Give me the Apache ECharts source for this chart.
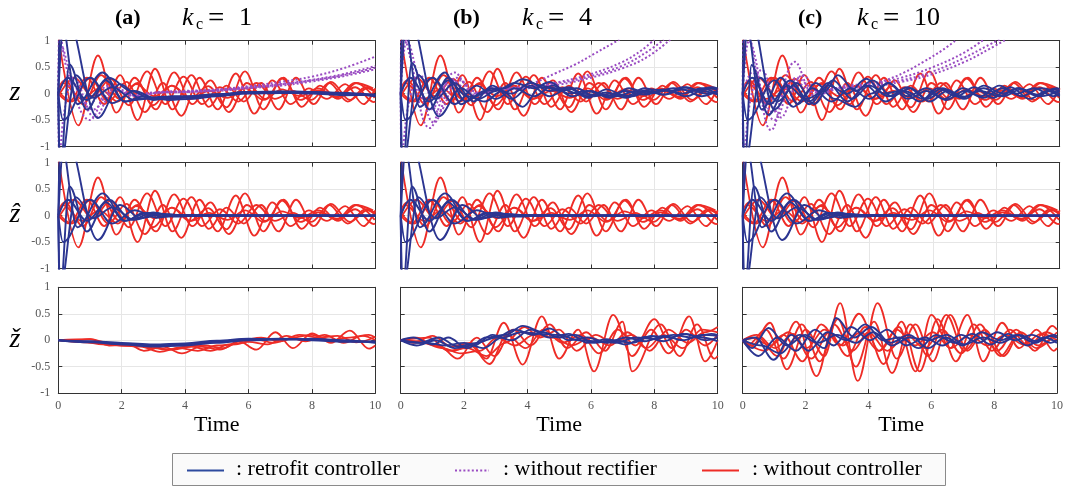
<!DOCTYPE html>
<html><head><meta charset="utf-8">
<script src="https://cdn.jsdelivr.net/npm/echarts@6/dist/echarts.min.js"></script>
<style>html,body{margin:0;padding:0;background:#fff}#c{width:1066px;height:491px}</style>
</head><body><div id="c"></div>
<script>
// ---------- tick labels / text ----------
const xTicks = [0, 2, 4, 6, 8, 10];
const yTicks = [-1, -0.5, 0, 0.5, 1];
const panelTags = ['(a)', '(b)', '(c)'];
const kcValues = ['1', '4', '10'];
const rowLabels = ['z', '\u1E91', '\u017E'];
const xName = 'Time';
const legendNames = [': retrofit controller', ': without rectifier', ': without controller'];

// ---------- without controller (red), z and z-hat rows ----------
const redZ1 = [[0,1.1],[0.63,-0.6],[1.25,0.72],[1.83,-0.36],[2.41,0.3],[2.99,-0.22],[3.57,0.15],[4.15,-0.1],[4.73,0.14],[5.31,-0.26],[5.89,0.42],[6.47,-0.3],[7.05,0.29],[7.63,-0.12],[8.21,0.06],[8.79,-0.06],[9.37,0.12],[9.95,-0.16],[10,-0.15]];
const redZ2 = [[0,0],[0.35,-0.15],[0.9,0.3],[1.45,-0.2],[1.95,0.35],[2.5,-0.5],[3.05,0.47],[3.6,-0.3],[4.2,0.35],[4.75,-0.25],[5.3,0.15],[5.85,-0.15],[6.4,0.2],[6.95,-0.3],[7.5,0.3],[8.05,-0.2],[8.6,0.22],[9.2,-0.12],[9.75,0.1],[10,0.02]];
const redZ3 = [[0,0.1],[0.2,0.25],[0.78,-0.2],[1.35,0.35],[1.93,-0.1],[2.5,0.2],[3.08,-0.3],[3.65,0.4],[4.23,-0.2],[4.8,0.25],[5.38,-0.35],[5.95,0.2],[6.53,-0.1],[7.1,0.3],[7.68,-0.25],[8.25,0.15],[8.83,-0.1],[9.4,0.2],[9.98,-0.08]];
const redZ4 = [[0,-0.05],[0.5,0.3],[1.08,-0.05],[1.65,0.28],[2.23,-0.22],[2.8,0.42],[3.38,-0.2],[3.95,0.32],[4.53,-0.2],[5.1,0.12],[5.68,-0.15],[6.25,0.2],[6.83,-0.1],[7.4,0.05],[7.98,-0.12],[8.55,0.2],[9.13,-0.15],[9.7,0.12],[10,0.05]];
const redZ5 = [[0,0.05],[0.43,-0.15],[1.0,0.3],[1.58,-0.15],[2.15,0.22],[2.73,-0.35],[3.3,0.2],[3.88,-0.42],[4.45,0.3],[5.03,-0.3],[5.6,0.38],[6.18,-0.38],[6.75,0.25],[7.33,-0.2],[7.9,0.1],[8.48,-0.1],[9.05,0.18],[9.63,-0.2],[10,0.1]];
const redZ6 = [[0,0],[0.15,0.2],[0.73,-0.1],[1.3,0.1],[1.88,-0.15],[2.45,0.18],[3.03,-0.05],[3.6,0.15],[4.18,-0.1],[4.75,0.05],[5.33,-0.08],[5.9,0.1],[6.48,-0.12],[7.05,0.08],[7.63,-0.05],[8.2,0.1],[8.78,-0.08],[9.35,0.2],[9.93,0.1]];

// ---------- retrofit controller (blue), z-hat row ----------
const blueZhat1 = [[0,0],[0.04,-1.6],[0.35,0.55],[0.9,-0.3],[1.5,0.25],[2.1,-0.1],[2.7,0.05],[3.3,-0.02],[4,0],[10,0]];
const blueZhat2 = [[0,0],[0.2,1.6],[1.25,-0.46],[1.95,0.2],[2.6,-0.05],[3.3,0.03],[4,0],[10,0]];
const blueZhat3 = [[0,0],[0.06,1.5],[0.6,-0.22],[1.4,0.42],[2.1,-0.1],[2.8,0.05],[3.5,0],[10,0]];
const blueZhat4 = [[0,0],[0.3,0.3],[0.9,-0.1],[1.6,0.3],[2.3,-0.08],[3.0,0.06],[3.7,-0.02],[4.5,0],[10,0]];
const blueZhat5 = [[0,0],[0.05,-1.4],[0.55,0.35],[1.1,-0.05],[1.7,0.15],[2.4,-0.08],[3.1,0.03],[4,0],[10,0]];
const blueZhat6 = [[0,0],[0.15,-0.5],[1.0,0.3],[1.7,-0.15],[2.4,0.1],[3.1,-0.04],[3.8,0.01],[10,0]];

// ---------- retrofit controller (blue), z row ----------
const blueZa1 = [[0,0],[0.04,-1.6],[0.35,0.55],[0.9,-0.3],[1.5,0.25],[2.1,-0.15],[2.7,-0.05],[3.3,-0.1],[4,-0.08],[5,-0.03],[6,0.02],[7,0.03],[8,0.02],[9,-0.02],[10,-0.04]];
const blueZa2 = [[0,0],[0.2,1.6],[1.25,-0.46],[1.95,0.18],[2.6,-0.1],[3.3,-0.06],[4,-0.06],[5,-0.01],[6,0.03],[7,0.02],[8,0],[9,-0.03],[10,-0.02]];
const blueZa3 = [[0,0],[0.06,1.5],[0.6,-0.2],[1.4,0.4],[2.1,-0.15],[2.8,-0.08],[3.5,-0.12],[4.2,-0.1],[5,-0.05],[6,0],[7,0.01],[8,0.03],[9,0],[10,-0.05]];
const blueZa4 = [[0,0],[0.3,0.3],[0.9,-0.12],[1.6,0.3],[2.3,0.05],[3.0,-0.12],[3.6,-0.05],[4.5,-0.06],[5.5,0],[6.5,0.03],[7.5,0.04],[8.5,0.02],[10,-0.02]];
const blueZa5 = [[0,0],[0.05,-1.4],[0.55,0.35],[1.1,-0.08],[1.7,0.12],[2.4,-0.12],[3.1,-0.08],[4,-0.07],[5,-0.02],[6,0.02],[7,0.03],[8,0.01],[9,-0.01],[10,-0.03]];
const blueZa6 = [[0,0],[0.15,-0.5],[1.0,0.3],[1.7,-0.18],[2.4,0.05],[3.1,-0.1],[3.8,-0.06],[5,-0.02],[6,0.03],[7,0.04],[8,0.02],[9,0],[10,-0.03]];

const blueZb1 = [[0,0],[0.04,-1.6],[0.35,0.58],[0.9,-0.3],[1.5,0.3],[2.05,-0.15],[2.65,0.05],[3.25,0.1],[3.85,0.27],[4.45,0.15],[5.0,0.05],[5.55,0.1],[6.1,-0.05],[6.7,0],[7.3,-0.05],[7.9,0.08],[8.5,0.05],[9.0,0.12],[9.6,0],[10,0.05]];
const blueZb2 = [[0,0],[0.2,1.6],[1.2,-0.43],[1.9,0.1],[2.45,-0.1],[3.0,0.05],[3.6,0.2],[4.2,0.1],[4.7,0.22],[5.3,0],[5.9,0.05],[6.5,-0.05],[7.1,0.05],[7.7,-0.02],[8.3,0.08],[8.9,0],[9.5,0.1],[10,0.08]];
const blueZb3 = [[0,0],[0.06,1.5],[0.6,-0.25],[1.4,0.4],[1.9,-0.2],[2.35,-0.05],[2.9,0.1],[3.5,0],[4.1,0.2],[4.7,0.05],[5.3,0.12],[5.9,-0.05],[6.5,0.02],[7.1,-0.08],[7.7,0.06],[8.3,-0.02],[8.9,0.12],[9.5,0.05],[10,-0.02]];
const blueZb4 = [[0,0],[0.3,0.3],[0.9,-0.15],[1.5,0.25],[2.1,-0.05],[2.65,-0.15],[3.2,0.05],[3.85,-0.25],[4.4,0.12],[5.0,0.1],[5.6,0],[6.2,-0.02],[6.8,-0.05],[7.4,0.05],[8.0,0.02],[8.6,0.1],[9.2,0.05],[9.8,0.12],[10,0.1]];
const blueZb5 = [[0,0],[0.05,-1.4],[0.55,0.35],[1.1,-0.1],[1.7,0.2],[2.3,-0.15],[2.9,0.15],[3.5,-0.1],[4.1,0.15],[4.7,-0.05],[5.3,0.1],[5.9,-0.08],[6.5,0.08],[7.1,-0.05],[7.7,0.1],[8.3,-0.02],[8.9,0.08],[9.5,-0.05],[10,0.05]];
const blueZb6 = [[0,0],[0.15,-0.5],[1.0,0.3],[1.7,-0.2],[2.4,0.15],[3.0,-0.1],[3.6,0.1],[4.2,-0.05],[4.8,0.15],[5.4,-0.05],[6.0,0.05],[6.6,-0.08],[7.2,0.1],[7.8,0],[8.4,0.06],[9.0,-0.05],[9.6,0.08],[10,0]];

const blueZc1 = [[0,0],[0.04,-1.6],[0.28,0.54],[0.81,-0.4],[1.4,0.15],[2.0,-0.1],[2.6,0.05],[3.0,0.35],[3.55,0.05],[4.1,0.25],[4.7,-0.05],[5.3,0.1],[5.9,-0.15],[6.45,0.05],[7.0,-0.1],[7.6,0.15],[8.2,0],[8.7,0.1],[9.3,-0.05],[9.8,0.08],[10,0.05]];
const blueZc2 = [[0,0],[0.2,1.6],[1.0,-0.3],[1.6,0.15],[2.1,-0.2],[2.7,0.15],[3.3,0],[3.9,0.28],[4.45,0],[5.0,0.05],[5.6,-0.15],[6.15,0.1],[6.75,-0.05],[7.3,0.12],[7.9,-0.08],[8.45,0.12],[9.05,-0.1],[9.6,0.05],[10,-0.05]];
const blueZc3 = [[0,0],[0.06,1.5],[0.6,-0.3],[1.2,0.3],[1.75,-0.2],[2.3,0.2],[2.9,-0.1],[3.55,-0.25],[4.05,0],[4.6,0.2],[5.2,-0.1],[5.8,0.05],[6.35,-0.1],[6.95,0.1],[7.5,-0.05],[8.1,0.15],[8.65,0],[9.2,0.1],[9.8,-0.05],[10,0]];
const blueZc4 = [[0,0],[0.3,0.3],[0.85,-0.2],[1.5,0.25],[2.1,-0.15],[2.7,0.2],[3.3,-0.15],[3.9,0.15],[4.5,-0.15],[5.1,0.05],[5.7,-0.1],[6.3,0.1],[6.9,-0.08],[7.5,0.05],[8.1,-0.05],[8.7,0.1],[9.3,-0.02],[9.9,0.1],[10,0.08]];
const blueZc5 = [[0,0],[0.05,-1.4],[0.55,0.3],[1.1,-0.15],[1.7,0.2],[2.25,-0.2],[2.85,0.25],[3.45,-0.1],[4.0,0.15],[4.6,-0.05],[5.2,0.12],[5.8,-0.1],[6.4,0.08],[7.0,-0.06],[7.6,0.1],[8.2,-0.05],[8.8,0.08],[9.4,-0.05],[10,0.05]];
const blueZc6 = [[0,0],[0.15,-0.5],[1.0,0.25],[1.6,-0.25],[2.2,0.1],[2.8,-0.15],[3.4,0.1],[4.0,-0.1],[4.6,0.2],[5.2,-0.05],[5.8,0.1],[6.4,-0.12],[7.0,0.05],[7.6,-0.08],[8.2,0.1],[8.8,-0.05],[9.4,0.1],[10,0]];

// ---------- without rectifier (purple), z row ----------
const purpleA1 = [[0,0],[0.05,1.2],[0.3,0.4],[1.0,-0.5],[1.7,0.15],[2.4,-0.05],[3.2,0.03],[4,0.05],[5,0.08],[6,0.14],[7,0.22],[8,0.32],[9,0.48],[10,0.7]];
const purpleA2 = [[0,0],[0.1,0.9],[0.5,0.2],[1.1,-0.3],[1.8,0.1],[2.5,-0.03],[3.2,0.02],[4,0.04],[5,0.07],[6,0.12],[7,0.18],[8,0.26],[9,0.37],[10,0.52]];
const purpleA3 = [[0,0],[0.04,-1.2],[0.2,-0.3],[0.5,0.3],[1.15,-0.45],[1.8,0.05],[2.5,-0.04],[3.2,0.02],[4,0.03],[5,0.06],[6,0.11],[7,0.17],[8,0.25],[9,0.35],[10,0.49]];
const purpleA4 = [[0,0],[0.3,0.3],[0.95,-0.2],[1.6,0.15],[2.3,-0.03],[3,0.02],[4,0.03],[5,0.05],[6,0.1],[7,0.15],[8,0.23],[9,0.33],[10,0.46]];

const purpleB1 = [[0,0],[0.05,1.3],[0.3,0.68],[0.92,-0.65],[1.7,0.4],[2.4,-0.05],[3.0,0.12],[3.6,0.1],[4.2,0.2],[4.9,0.39],[5.5,0.55],[6.1,0.75],[6.6,0.92],[6.9,1.02]];
const purpleB2 = [[0,0],[0.04,-1.2],[0.25,-0.2],[0.6,0.35],[1.2,-0.35],[1.85,0.25],[2.5,0],[3.2,0.1],[4,0.13],[5,0.22],[6,0.37],[7,0.6],[7.6,0.82],[8.0,1.02]];
const purpleB3 = [[0,0],[0.2,1.0],[0.6,0.2],[1.05,-0.55],[1.75,0.3],[2.45,0.02],[3.2,0.08],[4,0.12],[5,0.2],[6,0.33],[7,0.53],[7.8,0.8],[8.3,1.02]];
const purpleB4 = [[0,0],[0.3,0.3],[0.95,-0.3],[1.6,0.25],[2.3,0],[3,0.06],[4,0.1],[5,0.17],[6,0.3],[7,0.48],[7.8,0.7],[8.5,1.02]];

const purpleC1 = [[0,0],[0.05,1.3],[0.35,0.8],[0.9,-0.69],[1.65,0.6],[2.3,-0.05],[2.9,0.1],[3.5,0.12],[4.0,0.18],[4.54,0.26],[5.1,0.4],[5.7,0.6],[6.3,0.82],[6.75,1.02]];
const purpleC2 = [[0,0],[0.04,-1.2],[0.25,-0.1],[0.6,0.45],[1.2,-0.45],[1.9,0.35],[2.5,0],[3.2,0.15],[4,0.18],[5,0.3],[6,0.5],[7,0.78],[7.6,1.02]];
const purpleC3 = [[0,0],[0.2,1.0],[0.55,0.1],[1.0,-0.5],[1.7,0.3],[2.4,0.05],[3.1,0.12],[4,0.15],[5,0.25],[6,0.42],[7,0.68],[7.7,0.9],[8.1,1.02]];
const purpleC4 = [[0,0],[0.3,0.4],[0.95,-0.35],[1.6,0.25],[2.3,0.02],[3,0.1],[4,0.13],[5,0.22],[6,0.37],[7,0.6],[7.8,0.85],[8.3,1.02]];

// ---------- z-check row ----------
const redCheckA1 = [[0,0],[0.5,-0.01],[1.0,0.02],[1.6,-0.05],[2.2,-0.08],[2.7,-0.2],[3.3,-0.12],[3.9,-0.25],[4.5,-0.12],[5.1,-0.18],[5.7,-0.02],[6.25,-0.18],[6.85,0.15],[7.4,-0.15],[8.0,0.13],[8.6,-0.05],[9.2,0.18],[9.8,-0.16],[10,-0.1]];
const redCheckA2 = [[0,0],[0.8,-0.03],[1.4,-0.08],[2.0,-0.1],[2.6,-0.12],[3.2,-0.22],[3.8,-0.15],[4.4,-0.2],[5.0,-0.1],[5.6,-0.08],[6.2,0.02],[6.8,-0.05],[7.4,0.05],[8.0,0.1],[8.6,0],[9.2,0.05],[9.8,0.1],[10,0.05]];
const redCheckA3 = [[0,0],[1.0,0.02],[1.6,-0.1],[2.4,-0.08],[3.0,-0.15],[3.6,-0.18],[4.2,-0.12],[4.8,-0.2],[5.4,-0.08],[6.0,-0.03],[6.6,-0.08],[7.2,0.08],[7.8,-0.02],[8.4,0.1],[9.0,-0.05],[9.6,0.08],[10,0]];
const redCheckA4 = [[0,0],[1.2,-0.05],[2.0,-0.1],[2.8,-0.1],[3.4,-0.18],[4.0,-0.12],[4.6,-0.1],[5.2,-0.15],[5.8,0],[6.4,0.05],[7.0,-0.02],[7.6,0.1],[8.2,0.05],[8.8,0.08],[9.4,-0.04],[10,0.06]];
const blueCheckA1 = [[0,0],[1,-0.03],[2,-0.07],[3,-0.1],[4,-0.08],[5,-0.03],[6,0.02],[7,0.03],[8,0.02],[9,-0.02],[10,-0.04]];
const blueCheckA2 = [[0,0],[1,-0.02],[2,-0.05],[3,-0.08],[4,-0.06],[5,-0.01],[6,0.03],[7,0.02],[8,0],[9,-0.03],[10,-0.02]];
const blueCheckA3 = [[0,0],[1,-0.04],[2,-0.08],[3,-0.12],[4,-0.1],[5,-0.05],[6,0],[7,0.01],[8,0.03],[9,0],[10,-0.05]];

const redCheckB1 = [[0,0],[0.4,-0.05],[1.0,0.08],[1.6,-0.12],[2.2,-0.05],[2.7,-0.35],[3.25,0.33],[3.85,-0.46],[4.45,0.45],[5.0,-0.35],[5.6,0.2],[6.1,-0.59],[6.7,0.48],[7.3,-0.3],[7.9,0.2],[8.45,-0.25],[9.0,0.2],[9.6,-0.1],[10,0.1]];
const redCheckB2 = [[0,0],[0.6,-0.02],[1.2,-0.1],[1.8,-0.35],[2.4,0.05],[2.95,-0.3],[3.55,0.2],[4.1,-0.1],[4.7,0.3],[5.25,-0.15],[5.85,0.15],[6.45,-0.2],[7.0,0.35],[7.3,-0.59],[8.2,0.3],[8.8,-0.3],[9.35,0.3],[9.9,-0.35],[10,-0.3]];
const redCheckB3 = [[0,0],[0.5,0.05],[1.05,-0.1],[1.65,-0.2],[2.2,-0.1],[2.8,-0.45],[3.35,0.1],[3.95,-0.15],[4.5,0.2],[5.1,-0.05],[5.7,0.1],[6.25,-0.25],[6.85,0.2],[7.4,-0.1],[8.0,0.4],[8.55,-0.15],[9.1,0.45],[9.6,-0.4],[10,0]];
const redCheckB4 = [[0,0],[0.7,-0.05],[1.3,-0.15],[1.9,-0.25],[2.5,-0.2],[3.05,0.05],[3.6,-0.1],[4.2,0.1],[4.8,0.05],[5.4,-0.1],[6.0,0.05],[6.6,-0.1],[7.15,0.15],[7.75,-0.15],[8.3,0.1],[8.9,-0.15],[9.5,0.2],[10,0.15]];
const redCheckB5 = [[0,0],[0.9,0.05],[1.5,-0.2],[2.1,-0.15],[2.7,-0.3],[3.3,-0.05],[3.9,0.25],[4.4,0.05],[5.0,0.2],[5.55,-0.2],[6.15,0.1],[6.7,-0.05],[7.3,0.1],[7.85,-0.2],[8.45,0.2],[9.05,-0.05],[9.6,0.15],[10,0.25]];
const blueCheckB1 = [[0,0],[0.4,0.05],[1.0,-0.08],[1.5,0.05],[2.1,-0.15],[2.7,0.05],[3.3,0.1],[3.85,0.27],[4.5,0.15],[5.0,0.05],[5.5,0.1],[6.1,-0.05],[6.7,0],[7.3,-0.05],[7.9,0.08],[8.5,0.05],[9.0,0.12],[9.6,0],[10,0.05]];
const blueCheckB2 = [[0,0],[0.6,-0.05],[1.2,0.05],[1.8,-0.12],[2.4,-0.05],[3.0,0.05],[3.6,0.2],[4.2,0.1],[4.7,0.22],[5.3,0],[5.9,0.05],[6.5,-0.05],[7.1,0.05],[7.7,-0.02],[8.3,0.08],[8.9,0],[9.5,0.1],[10,0.08]];
const blueCheckB3 = [[0,0],[0.5,-0.1],[1.1,0],[1.7,-0.15],[2.3,-0.1],[2.9,0.1],[3.5,0],[4.1,0.2],[4.7,0.05],[5.3,0.12],[5.9,-0.05],[6.5,0.02],[7.1,-0.08],[7.7,0.06],[8.3,-0.02],[8.9,0.12],[9.5,0.05],[10,-0.02]];
const blueCheckB4 = [[0,0],[0.8,-0.05],[1.4,-0.1],[2.0,-0.05],[2.6,-0.15],[3.2,0.05],[3.8,0.15],[4.4,0.12],[5.0,0.1],[5.6,0],[6.2,-0.02],[6.8,-0.05],[7.4,0.05],[8.0,0.02],[8.6,0.1],[9.2,0.05],[9.8,0.12],[10,0.1]];

const redCheckC1 = [[0,0],[0.3,-0.1],[0.87,0.33],[1.4,-0.55],[2.0,0.2],[2.6,-0.3],[3.1,0.7],[3.66,-0.77],[4.29,0.7],[4.9,-0.35],[5.5,0.3],[6.05,-0.4],[6.6,0.48],[7.15,-0.2],[7.7,0.2],[8.3,-0.3],[8.85,0.15],[9.4,-0.1],[10,0.15]];
const redCheckC2 = [[0,0],[0.5,0.05],[1.1,-0.3],[1.7,0.35],[2.35,-0.68],[2.9,0.3],[3.5,-0.2],[4.0,0.15],[4.6,-0.2],[5.2,0.1],[5.8,-0.15],[6.35,0.2],[6.95,-0.25],[7.55,0.3],[8.1,-0.2],[8.7,0.2],[9.3,-0.2],[9.85,0.27],[10,0.2]];
const redCheckC3 = [[0,0],[0.7,-0.2],[1.3,0.1],[1.9,-0.4],[2.5,0.3],[3.1,-0.1],[3.7,0.5],[4.35,-0.2],[4.97,0.25],[5.5,-0.59],[6.0,0.48],[6.6,-0.15],[7.15,0.48],[7.65,-0.4],[8.25,0.33],[8.8,-0.15],[9.35,0.2],[9.9,-0.2],[10,-0.15]];
const redCheckC4 = [[0,0],[0.45,0.1],[1.03,-0.15],[1.6,0.12],[2.18,-0.35],[2.75,0.15],[3.33,-0.3],[3.9,0.25],[4.48,-0.45],[5.05,0.35],[5.63,-0.59],[6.2,0.4],[6.78,-0.4],[7.35,0.3],[7.93,-0.2],[8.5,0.2],[9.08,-0.1],[9.65,0.15],[10,0.05]];
const redCheckC5 = [[0,0],[0.15,-0.1],[0.73,0.2],[1.3,-0.35],[1.88,0.3],[2.45,-0.4],[3.03,0.4],[3.6,-0.5],[4.18,0.35],[4.75,-0.62],[5.33,0.3],[5.9,-0.3],[6.48,0.48],[7.05,-0.2],[7.63,0.15],[8.2,-0.3],[8.78,0.1],[9.35,-0.15],[9.93,0.1]];
const redCheckC6 = [[0,0],[0.3,0.05],[0.88,-0.1],[1.45,0.15],[2.03,-0.15],[2.6,0.2],[3.18,-0.1],[3.75,0.15],[4.33,-0.2],[4.9,0.2],[5.48,-0.1],[6.05,0.15],[6.63,-0.15],[7.2,0.1],[7.78,-0.1],[8.35,0.1],[8.93,-0.08],[9.5,0.12],[10,0]];
const blueCheckC1 = [[0,0],[0.3,-0.15],[0.82,0.23],[1.4,-0.1],[2.0,0.1],[2.6,-0.15],[2.97,0.42],[3.55,0.05],[4.1,0.25],[4.7,-0.05],[5.3,0.1],[5.9,-0.15],[6.45,0.05],[7.0,-0.1],[7.6,0.15],[8.2,0],[8.7,0.1],[9.3,-0.05],[9.8,0.08],[10,0.05]];
const blueCheckC2 = [[0,0],[0.4,0.05],[0.98,-0.37],[1.55,0.1],[2.1,-0.2],[2.7,0.15],[3.3,0],[3.9,0.3],[4.45,0],[5.0,0.05],[5.6,-0.15],[6.15,0.1],[6.75,-0.05],[7.3,0.12],[7.9,-0.08],[8.45,0.12],[9.05,-0.1],[9.6,0.05],[10,-0.05]];
const blueCheckC3 = [[0,0],[0.5,-0.3],[1.1,0.05],[1.7,-0.2],[2.3,0.2],[2.9,-0.1],[3.45,0.25],[4.05,0],[4.6,0.2],[5.2,-0.1],[5.8,0.05],[6.35,-0.1],[6.95,0.1],[7.5,-0.05],[8.1,0.15],[8.65,0],[9.2,0.1],[9.8,-0.05],[10,0]];
const blueCheckC4 = [[0,0],[0.6,-0.1],[1.2,-0.25],[1.8,0.1],[2.4,-0.05],[3.0,0.1],[3.6,-0.05],[4.15,0.15],[4.75,-0.1],[5.3,0.05],[5.9,0],[6.5,0.1],[7.05,-0.08],[7.65,0.05],[8.2,-0.05],[8.8,0.1],[9.35,-0.02],[9.9,0.1],[10,0.08]];

// ---------- assemble ----------
const redZ = [redZ1, redZ2, redZ3, redZ4, redZ5, redZ6];
const blueZhat = [blueZhat1, blueZhat2, blueZhat3, blueZhat4, blueZhat5, blueZhat6];
const panels = [
  [ {red: redZ, purple: [purpleA1, purpleA2, purpleA3, purpleA4], blue: [blueZa1, blueZa2, blueZa3, blueZa4, blueZa5, blueZa6]},
    {red: redZ, purple: [purpleB1, purpleB2, purpleB3, purpleB4], blue: [blueZb1, blueZb2, blueZb3, blueZb4, blueZb5, blueZb6]},
    {red: redZ, purple: [purpleC1, purpleC2, purpleC3, purpleC4], blue: [blueZc1, blueZc2, blueZc3, blueZc4, blueZc5, blueZc6]} ],
  [ {red: redZ, purple: [], blue: blueZhat},
    {red: redZ, purple: [], blue: blueZhat},
    {red: redZ, purple: [], blue: blueZhat} ],
  [ {red: [redCheckA1, redCheckA2, redCheckA3, redCheckA4], purple: [], blue: [blueCheckA1, blueCheckA2, blueCheckA3]},
    {red: [redCheckB1, redCheckB2, redCheckB3, redCheckB4, redCheckB5], purple: [], blue: [blueCheckB1, blueCheckB2, blueCheckB3, blueCheckB4]},
    {red: [redCheckC1, redCheckC2, redCheckC3, redCheckC4, redCheckC5, redCheckC6], purple: [], blue: [blueCheckC1, blueCheckC2, blueCheckC3, blueCheckC4]} ]
];

const RED = '#ee2c26', BLUE = '#2b3591', PURPLE = '#9a4cc2';
const FRAME = '#333333', GRID = '#e6e6e6', TICKC = '#555555';
const FONT = "'Liberation Serif','Times New Roman',serif";
const colLeft = [58.3, 400.7, 742.7], plotW = 317, rowTop = [40.7, 162.7, 287.3], plotH = 105.8;

const grids = [], xAxes = [], yAxes = [], series = [];
const N = 9;
for (let r = 0; r < 3; r++) for (let c = 0; c < 3; c++) {
  const idx = r * 3 + c;
  grids.push({left: colLeft[c], top: rowTop[r], width: plotW, height: plotH, containLabel: false});
  xAxes.push({gridIndex: idx, type: 'value', position: 'bottom',
    min: xTicks[0], max: xTicks[xTicks.length - 1], interval: xTicks[1] - xTicks[0],
    axisLine: {show: true, onZero: false, lineStyle: {color: FRAME, width: 1}},
    axisTick: {show: true, inside: true, length: 4, lineStyle: {color: FRAME}},
    axisLabel: {show: r === 2, margin: 7, fontSize: 12, color: TICKC, fontFamily: FONT},
    splitLine: {show: true, lineStyle: {color: GRID, width: 1}}});
  yAxes.push({gridIndex: idx, type: 'value', position: 'left',
    min: yTicks[0], max: yTicks[yTicks.length - 1], interval: yTicks[1] - yTicks[0],
    axisLine: {show: true, onZero: false, lineStyle: {color: FRAME, width: 1}},
    axisTick: {show: true, inside: true, length: 4, lineStyle: {color: FRAME}},
    axisLabel: {show: c === 0, margin: 8, fontSize: 12, color: TICKC, fontFamily: FONT},
    splitLine: {show: true, lineStyle: {color: GRID, width: 1}}});
  const p = panels[r][c];
  p.red.forEach(d => series.push({type: 'line', xAxisIndex: idx, yAxisIndex: idx, data: d,
    showSymbol: false, smooth: 0.36, smoothMonotone: 'x', silent: true, clip: true,
    lineStyle: {color: RED, width: 1.8}, z: 2}));
  p.purple.forEach(d => series.push({type: 'line', xAxisIndex: idx, yAxisIndex: idx, data: d,
    showSymbol: false, smooth: 0.4, silent: true, clip: true,
    lineStyle: {color: PURPLE, width: 2, type: [2, 2.2]}, z: 3}));
  p.blue.forEach(d => series.push({type: 'line', xAxisIndex: idx, yAxisIndex: idx, data: d,
    showSymbol: false, smooth: 0.36, smoothMonotone: 'x', silent: true, clip: true,
    lineStyle: {color: BLUE, width: 1.9}, z: 4}));
}
// box frame: top and right axes with inward ticks
for (let idx = 0; idx < N; idx++) {
  xAxes.push({gridIndex: idx, type: 'value', position: 'top',
    min: xTicks[0], max: xTicks[xTicks.length - 1], interval: xTicks[1] - xTicks[0],
    axisLine: {show: true, onZero: false, lineStyle: {color: FRAME, width: 1}},
    axisTick: {show: true, inside: true, length: 4, lineStyle: {color: FRAME}},
    axisLabel: {show: false}, splitLine: {show: false}});
  yAxes.push({gridIndex: idx, type: 'value', position: 'right',
    min: yTicks[0], max: yTicks[yTicks.length - 1], interval: yTicks[1] - yTicks[0],
    axisLine: {show: true, onZero: false, lineStyle: {color: FRAME, width: 1}},
    axisTick: {show: true, inside: true, length: 4, lineStyle: {color: FRAME}},
    axisLabel: {show: false}, splitLine: {show: false}});
}

// ---------- text & legend (graphic) ----------
const graphic = [];
const txt = (x, y, text, font, align, extra) => Object.assign({type: 'text', x: x, y: y, silent: true,
  style: {text: text, font: font, fill: '#000', textAlign: align || 'left', align: align || 'left',
          textVerticalAlign: 'middle', verticalAlign: 'middle'}}, extra || {});
const tagX = [115, 453, 798], kX = [182, 522, 857];
for (let c = 0; c < 3; c++) {
  graphic.push(txt(tagX[c], 18, panelTags[c], "bold 22px " + FONT));
  graphic.push(txt(kX[c], 18, 'k', "italic 26px " + FONT));
  graphic.push(txt(kX[c] + 14, 25, 'c', "16px " + FONT));
  graphic.push(txt(kX[c] + 26, 19, '=', "29px " + FONT));
  graphic.push(txt(kX[c] + 57, 18, kcValues[c], "26px " + FONT));
  graphic.push(txt(colLeft[c] + plotW / 2, 425, xName, "22px " + FONT, 'center'));
}
for (let r = 0; r < 3; r++) {
  graphic.push(txt(15, rowTop[r] + plotH / 2 - 1, rowLabels[r], "italic 28px " + FONT, 'center'));
}
graphic.push({type: 'rect', silent: true, shape: {x: 172.5, y: 453.5, width: 773, height: 32},
  style: {fill: '#fafafa', stroke: '#8a8a8a', lineWidth: 1}});
const legY = 470.5;
graphic.push({type: 'line', silent: true, shape: {x1: 187, y1: legY, x2: 224, y2: legY}, style: {stroke: '#2d4a9e', lineWidth: 2}});
graphic.push(txt(236, legY - 1, legendNames[0], "22px " + FONT));
graphic.push({type: 'line', silent: true, shape: {x1: 455, y1: legY, x2: 489, y2: legY}, style: {stroke: PURPLE, lineWidth: 2, lineDash: [2, 2.2]}});
graphic.push(txt(503, legY - 1, legendNames[1], "22px " + FONT));
graphic.push({type: 'line', silent: true, shape: {x1: 702, y1: legY, x2: 739, y2: legY}, style: {stroke: RED, lineWidth: 2}});
graphic.push(txt(752, legY - 1, legendNames[2], "22px " + FONT));

const chart = echarts.init(document.getElementById('c'), null, {renderer: 'canvas'});
chart.setOption({
  animation: false,
  backgroundColor: '#ffffff',
  grid: grids, xAxis: xAxes, yAxis: yAxes, series: series, graphic: graphic
});
</script></body></html>
